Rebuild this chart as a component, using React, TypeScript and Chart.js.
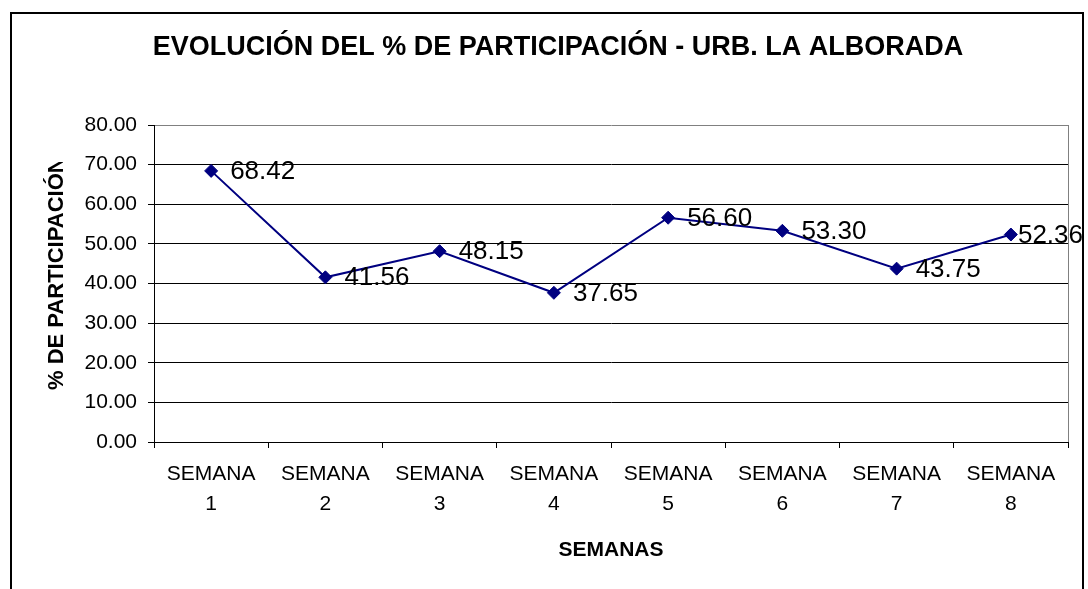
import React, { useEffect, useRef } from "react";
import { Chart, registerables } from "chart.js";

Chart.register(...registerables);

const weeks = ["1", "2", "3", "4", "5", "6", "7", "8"];
const participation = [68.42, 41.56, 48.15, 37.65, 56.6, 53.3, 43.75, 52.36];
const yTicks = [0, 10, 20, 30, 40, 50, 60, 70, 80];
const chartTitle = "EVOLUCIÓN DEL % DE PARTICIPACIÓN - URB. LA ALBORADA";
const xTitle = "SEMANAS";
const yTitle = "% DE PARTICIPACIÓN";

const FONT = "'Liberation Sans', Arial, Helvetica, sans-serif";

const framePlugin = {
  id: "frame",
  beforeDraw(chart: any) {
    const { ctx } = chart;
    ctx.save();
    ctx.fillStyle = "#ffffff";
    ctx.fillRect(0, 0, chart.width, chart.height);
    ctx.restore();
  },
  afterDraw(chart: any) {
    const { ctx, chartArea } = chart;
    ctx.save();
    // outer chart border (bottom edge out of view)
    ctx.strokeStyle = "#000";
    ctx.lineWidth = 2;
    ctx.beginPath();
    ctx.moveTo(11, 600);
    ctx.lineTo(11, 13);
    ctx.lineTo(1083, 13);
    ctx.lineTo(1083, 600);
    ctx.stroke();
    // plot area right border (gray)
    ctx.strokeStyle = "#808080";
    ctx.lineWidth = 1;
    ctx.beginPath();
    const rx = Math.round(chartArea.right) + 0.5;
    ctx.moveTo(rx, chartArea.top);
    ctx.lineTo(rx, chartArea.bottom);
    ctx.stroke();
    // title
    ctx.fillStyle = "#000";
    ctx.font = `bold 27px ${FONT}`;
    ctx.textAlign = "center";
    ctx.textBaseline = "middle";
    ctx.fillText(chartTitle, 558, 48);
    // y axis title (clipped like the original)
    ctx.save();
    ctx.beginPath();
    ctx.rect(0, 162, 150, 300);
    ctx.clip();
    ctx.translate(63, 390);
    ctx.rotate(-Math.PI / 2);
    ctx.font = `bold 22px ${FONT}`;
    ctx.textAlign = "left";
    ctx.textBaseline = "alphabetic";
    ctx.fillText(yTitle, 0, 0);
    ctx.restore();
    ctx.restore();
  },
  afterDatasetsDraw(chart: any) {
    const { ctx } = chart;
    const meta = chart.getDatasetMeta(0);
    const data = chart.data.datasets[0].data;
    ctx.save();
    ctx.fillStyle = "#000";
    ctx.font = `26px ${FONT}`;
    ctx.textAlign = "left";
    ctx.textBaseline = "middle";
    meta.data.forEach((pt: any, i: number) => {
      const txt = Number(data[i]).toFixed(2);
      const w = ctx.measureText(txt).width;
      const x = Math.min(pt.x + 19, 1083 - w);
      ctx.fillText(txt, x, pt.y + 1);
    });
    ctx.restore();
  },
};

export default function App() {
  const ref = useRef<HTMLCanvasElement>(null);

  useEffect(() => {
    if (!ref.current) return;
    const chart = new Chart(ref.current, {
      type: "line",
      data: {
        labels: weeks.map((w) => ["SEMANA", w]),
        datasets: [
          {
            data: participation,
            borderColor: "#000080",
            backgroundColor: "#000080",
            borderWidth: 2,
            tension: 0,
            pointStyle: "rectRot",
            pointRadius: 6.5,
            pointHoverRadius: 6.5,
            pointBackgroundColor: "#000080",
            pointBorderColor: "#000080",
            pointBorderWidth: 1,
            fill: false,
          },
        ],
      },
      options: {
        responsive: false,
        animation: false,
        events: [],
        layout: { padding: { left: 0, top: 125, right: 20, bottom: 0 } },
        plugins: {
          legend: { display: false },
          tooltip: { enabled: false },
          title: { display: false },
        },
        scales: {
          x: {
            type: "category",
            offset: true,
            grid: {
              offset: true,
              drawOnChartArea: false,
              drawTicks: true,
              tickLength: 6,
              color: "#000",
            },
            border: { display: true, color: "#000", width: 1 },
            ticks: {
              color: "#000",
              font: { family: FONT, size: 21, lineHeight: 30 / 21 },
              padding: 11,
              maxRotation: 0,
              autoSkip: false,
            },
            title: {
              display: true,
              text: xTitle,
              color: "#000",
              font: { family: FONT, size: 21, weight: "bold", lineHeight: 1.2 },
              padding: { top: 26, bottom: 26 },
            },
            afterFit(scale: any) {
              scale.height = 147;
            },
          },
          y: {
            min: 0,
            max: 80,
            afterBuildTicks(scale: any) {
              scale.ticks = yTicks.map((v) => ({ value: v }));
            },
            grid: {
              color: (c: any) => (c.tick && c.tick.value === 80 ? "#808080" : "#000"),
              tickColor: "#000",
              tickLength: 6,
              drawTicks: true,
            },
            border: { display: true, color: "#000", width: 1 },
            ticks: {
              color: "#000",
              font: { family: FONT, size: 21 },
              padding: 11,
              callback: (v: any) => Number(v).toFixed(2),
            },
            afterFit(scale: any) {
              scale.width = 154;
            },
          },
        },
      },
      plugins: [framePlugin],
    });
    return () => chart.destroy();
  }, []);

  return (
    <div style={{ position: "fixed", left: 0, top: 0, width: 1088, height: 589 }}>
      <canvas ref={ref} width={1088} height={589} style={{ display: "block" }} />
    </div>
  );
}
